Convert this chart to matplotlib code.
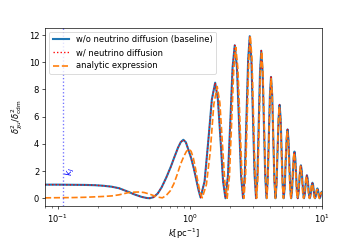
import matplotlib
matplotlib.use('Agg')
import matplotlib.pyplot as plt

# values
k_base = [0.08, 0.1, 0.13, 0.16, 0.19, 0.22, 0.255, 0.29, 0.34, 0.38, 0.43, 0.47, 0.496,
          0.53, 0.57, 0.61, 0.66, 0.714, 0.76, 0.81, 0.85, 0.89, 0.93, 0.97, 1.02, 1.07,
          1.12, 1.16, 1.202,
          1.289, 1.376, 1.463, 1.55, 1.626, 1.703, 1.779, 1.855,
          1.936, 2.018, 2.099, 2.18, 2.265, 2.35, 2.435, 2.52,
          2.598, 2.675, 2.753, 2.83, 2.913, 2.995, 3.078, 3.16,
          3.235, 3.31, 3.385, 3.46, 3.543, 3.625, 3.708, 3.79,
          3.868, 3.945, 4.023, 4.10, 4.183, 4.265, 4.348, 4.43,
          4.513, 4.595, 4.678, 4.76, 4.848, 4.935, 5.023, 5.11,
          5.2, 5.29, 5.38, 5.47, 5.558, 5.645, 5.733, 5.82,
          5.908, 5.995, 6.083, 6.17, 6.26, 6.35, 6.44, 6.53,
          6.623, 6.715, 6.808, 6.90, 6.995, 7.09, 7.185, 7.28,
          7.375, 7.47, 7.565, 7.66, 7.758, 7.855, 7.953, 8.05,
          8.148, 8.245, 8.343, 8.44, 8.535, 8.63, 8.725, 8.82,
          8.915, 9.01, 9.105, 9.20, 9.29, 9.385, 9.478, 9.57,
          9.66, 9.75, 9.84, 9.93, 10.0]
y_base = [1.0, 1.0, 0.99, 0.98, 0.96, 0.92, 0.85, 0.74, 0.48, 0.28, 0.10, 0.02, 0.0,
          0.08, 0.35, 0.8, 1.5, 2.29, 3.0, 3.7, 4.12, 4.3, 4.12, 3.6, 2.95, 2.17,
          1.3, 0.6, 0.05,
          1.24, 4.25, 7.26, 8.5, 7.26, 4.25, 1.24, 0.0,
          1.64, 5.63, 9.61, 11.25, 9.61, 5.63, 1.64, 0.0,
          1.74, 5.96, 10.18, 11.92, 10.18, 5.96, 1.74, 0.0,
          1.58, 5.43, 9.27, 10.85, 9.27, 5.43, 1.58, 0.0,
          1.3, 4.46, 7.62, 8.92, 7.62, 4.46, 1.3, 0.0,
          1.0, 3.44, 5.87, 6.87, 5.87, 3.44, 1.0, 0.0,
          0.74, 2.53, 4.32, 5.06, 4.32, 2.53, 0.74, 0.0,
          0.5, 1.72, 2.93, 3.43, 2.93, 1.72, 0.5, 0.0,
          0.35, 1.21, 2.07, 2.42, 2.07, 1.21, 0.35, 0.0,
          0.25, 0.85, 1.44, 1.69, 1.44, 0.85, 0.25, 0.0,
          0.17, 0.57, 0.97, 1.14, 0.97, 0.57, 0.17, 0.0,
          0.1, 0.36, 0.61, 0.72, 0.61, 0.36, 0.1, 0.0,
          0.07, 0.24, 0.41, 0.48, 0.44]

# with diffusion: indistinguishable from the baseline at this scale
k_diff = list(k_base)
y_diff = list(y_base)

k_analytic = [0.08, 0.1, 0.13, 0.16, 0.19, 0.22, 0.255, 0.29, 0.34, 0.38, 0.415, 0.45,
              0.496, 0.535, 0.573, 0.618, 0.66, 0.71, 0.756, 0.80, 0.85, 0.90, 0.94,
              0.981, 1.02, 1.06, 1.10, 1.135, 1.17, 1.205, 1.238,
              1.33, 1.422, 1.514, 1.606, 1.682, 1.758, 1.834, 1.91,
              1.988, 2.065, 2.143, 2.22, 2.305, 2.39, 2.475, 2.56,
              2.635, 2.71, 2.785, 2.86, 2.943, 3.025, 3.108, 3.19,
              3.263, 3.335, 3.408, 3.48, 3.563, 3.645, 3.728, 3.81,
              3.885, 3.96, 4.035, 4.11, 4.19, 4.27, 4.35, 4.43,
              4.508, 4.585, 4.663, 4.74, 4.828, 4.915, 5.003, 5.09,
              5.175, 5.26, 5.345, 5.43, 5.52, 5.61, 5.70, 5.79,
              5.875, 5.96, 6.045, 6.13, 6.22, 6.31, 6.40, 6.49,
              6.58, 6.67, 6.76, 6.85, 6.943, 7.035, 7.128, 7.22,
              7.315, 7.41, 7.505, 7.60, 7.698, 7.795, 7.893, 7.99,
              8.088, 8.185, 8.283, 8.38, 8.475, 8.57, 8.665, 8.76,
              8.855, 8.95, 9.045, 9.14, 9.233, 9.325, 9.418, 9.51,
              9.6, 9.69, 9.78, 9.87, 10.0]
y_analytic = [0.03, 0.04, 0.05, 0.07, 0.1, 0.13, 0.17, 0.25, 0.41, 0.45, 0.46, 0.42,
              0.3, 0.18, 0.08, 0.03, 0.2, 0.55, 1.08, 1.75, 2.53, 3.1, 3.45,
              3.62, 3.45, 2.95, 2.2, 1.45, 0.8, 0.3, 0.03,
              1.0, 3.4, 6.9, 8.22, 7.02, 4.11, 1.2, 0.0,
              1.62, 5.55, 9.48, 11.1, 9.48, 5.55, 1.62, 0.0,
              1.74, 5.98, 10.2, 11.95, 10.2, 5.98, 1.74, 0.0,
              1.58, 5.4, 9.22, 10.8, 9.22, 5.4, 1.58, 0.0,
              1.28, 4.4, 7.52, 8.8, 7.52, 4.4, 1.28, 0.0,
              0.99, 3.38, 5.76, 6.75, 5.76, 3.38, 0.99, 0.0,
              0.72, 2.48, 4.23, 4.95, 4.23, 2.48, 0.72, 0.0,
              0.49, 1.68, 2.86, 3.35, 2.86, 1.68, 0.49, 0.0,
              0.34, 1.18, 2.0, 2.35, 2.0, 1.18, 0.34, 0.0,
              0.23, 0.8, 1.37, 1.6, 1.37, 0.8, 0.23, 0.0,
              0.15, 0.53, 0.9, 1.05, 0.9, 0.53, 0.15, 0.0,
              0.1, 0.33, 0.55, 0.65, 0.55, 0.33, 0.1, 0.0,
              0.06, 0.21, 0.36, 0.42, 0.34]

k_jeans = 0.109

fig, ax = plt.subplots(figsize=(6, 4), dpi=60)
fig.subplots_adjust(left=0.125, right=0.895, bottom=0.14, top=0.885)

ax.plot(k_base, y_base, color='C0', lw=2.5, label='w/o neutrino diffusion (baseline)')
ax.plot(k_diff, y_diff, color='red', ls=':', lw=1.6, label='w/ neutrino diffusion')
ax.plot(k_analytic, y_analytic, color='C1', ls='--', lw=2.0, label='analytic expression')

ax.axvline(k_jeans, color='blue', ls=':', lw=1.6, alpha=0.55)
ax.text(k_jeans * 1.02, 1.6, r'$k_J$', color='blue', rotation=90,
        ha='left', va='bottom', fontsize=11)

ax.set_xscale('log')
ax.set_xlim(0.08, 10)
ax.set_ylim(-0.6, 12.55)
ax.set_yticks([0, 2, 4, 6, 8, 10, 12])
ax.set_xlabel(r'$k[\mathrm{pc}^{-1}]$', labelpad=2)
ax.set_ylabel(r'$\delta^2_{\chi u}/\delta^2_{\rm cdm}$')
ax.legend(loc='upper left')

plt.savefig('out.png', dpi=60)
